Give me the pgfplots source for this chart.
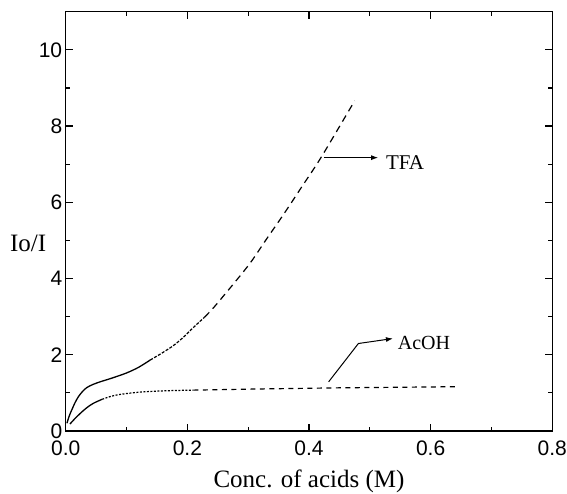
\documentclass[border=0pt]{standalone}
\usepackage{fontspec}
\setmainfont{Liberation Serif}
\newfontfamily\arial{Liberation Sans}
\usepackage{pgfplots}
\pgfplotsset{compat=1.18}
\usetikzlibrary{arrows.meta}
\begin{document}
\begin{tikzpicture}
\path[use as bounding box] (-65.7bp,-63.1bp) rectangle (501.3bp,430.9bp);
\begin{axis}[
  at={(0,0)}, anchor=south west,
  scale only axis,
  width=486.6bp, height=419.2bp,
  xmin=0, xmax=0.8, ymin=0, ymax=11,
  xtick={0,0.2,0.4,0.6,0.8},
  xticklabels={0.0,0.2,0.4,0.6,0.8},
  ytick={0,2,4,6,8,10},
  minor xtick={0.1,0.3,0.5,0.7},
  minor ytick={1,3,5,7,9},
  tick align=inside,
  major tick length=7bp, minor tick length=4bp,
  axis line style={line width=1.4bp},
  every tick/.style={black, line width=1.2bp},
  /pgf/number format/assume math mode=true,
  tick label style={font=\arial\fontsize{21bp}{25bp}\selectfont},
  xticklabel style={anchor=base, yshift=-25bp},
  xlabel={Conc. of acids (M)},
  xlabel style={font=\fontsize{25bp}{29bp}\selectfont, at={(axis description cs:0.5,0)}, anchor=base, yshift=-57bp},
  ylabel={Io/I},
  ylabel style={font=\fontsize{25bp}{29bp}\selectfont, rotate=-90, at={(axis description cs:0,0.448)}, anchor=east, xshift=-16bp},
  clip=false,
]
% TFA
\addplot[black, line width=1.3bp, smooth] coordinates {
(0.002,0.2) (0.006,0.4) (0.01,0.55) (0.015,0.73) (0.021,0.9) (0.028,1.04) (0.035,1.14) (0.045,1.22) (0.057,1.29) (0.075,1.38) (0.1,1.52) (0.12,1.67) (0.139,1.86)};
\addplot[black, line width=1.2bp, smooth, dash pattern=on 3bp off 1.5bp] coordinates {
(0.139,1.86) (0.158,2.04) (0.178,2.25) (0.195,2.48) (0.211,2.73) (0.228,2.98)};
\addplot[black, line width=1.2bp, smooth, dash pattern=on 7bp off 5bp] coordinates {
(0.228,2.98) (0.244,3.25) (0.277,3.88) (0.304,4.42) (0.33,5.03) (0.359,5.70) (0.39,6.45) (0.42,7.18) (0.475,8.66)};
% AcOH
\addplot[black, line width=1.3bp, smooth] coordinates {
(0.007,0.18) (0.015,0.32) (0.024,0.46) (0.034,0.6) (0.045,0.72) (0.06,0.83)};
\addplot[black, line width=1.2bp, smooth, dash pattern=on 2bp off 1.5bp] coordinates {
(0.06,0.83) (0.073,0.9) (0.085,0.945) (0.1,0.98) (0.12,1.015) (0.145,1.04) (0.175,1.058) (0.21,1.07)};
\addplot[black, line width=1.2bp, dash pattern=on 5bp off 4.5bp] coordinates {
(0.21,1.07) (0.316,1.1) (0.45,1.13) (0.643,1.16)};
% annotations
\draw[line width=1bp, -{Latex[length=7bp,width=5bp]}] (axis cs:0.4246,7.17) -- (axis cs:0.5137,7.17);
\node[font=\fontsize{21bp}{25bp}\selectfont] at (axis cs:0.558,7.04) {TFA};
\draw[line width=1bp, -{Latex[length=7bp,width=5bp]}] (axis cs:0.4323,1.288) -- (axis cs:0.4812,2.293) -- (axis cs:0.538,2.424);
\node[font=\fontsize{20bp}{24bp}\selectfont] at (axis cs:0.589,2.30) {AcOH};
\end{axis}
\end{tikzpicture}
\end{document}
